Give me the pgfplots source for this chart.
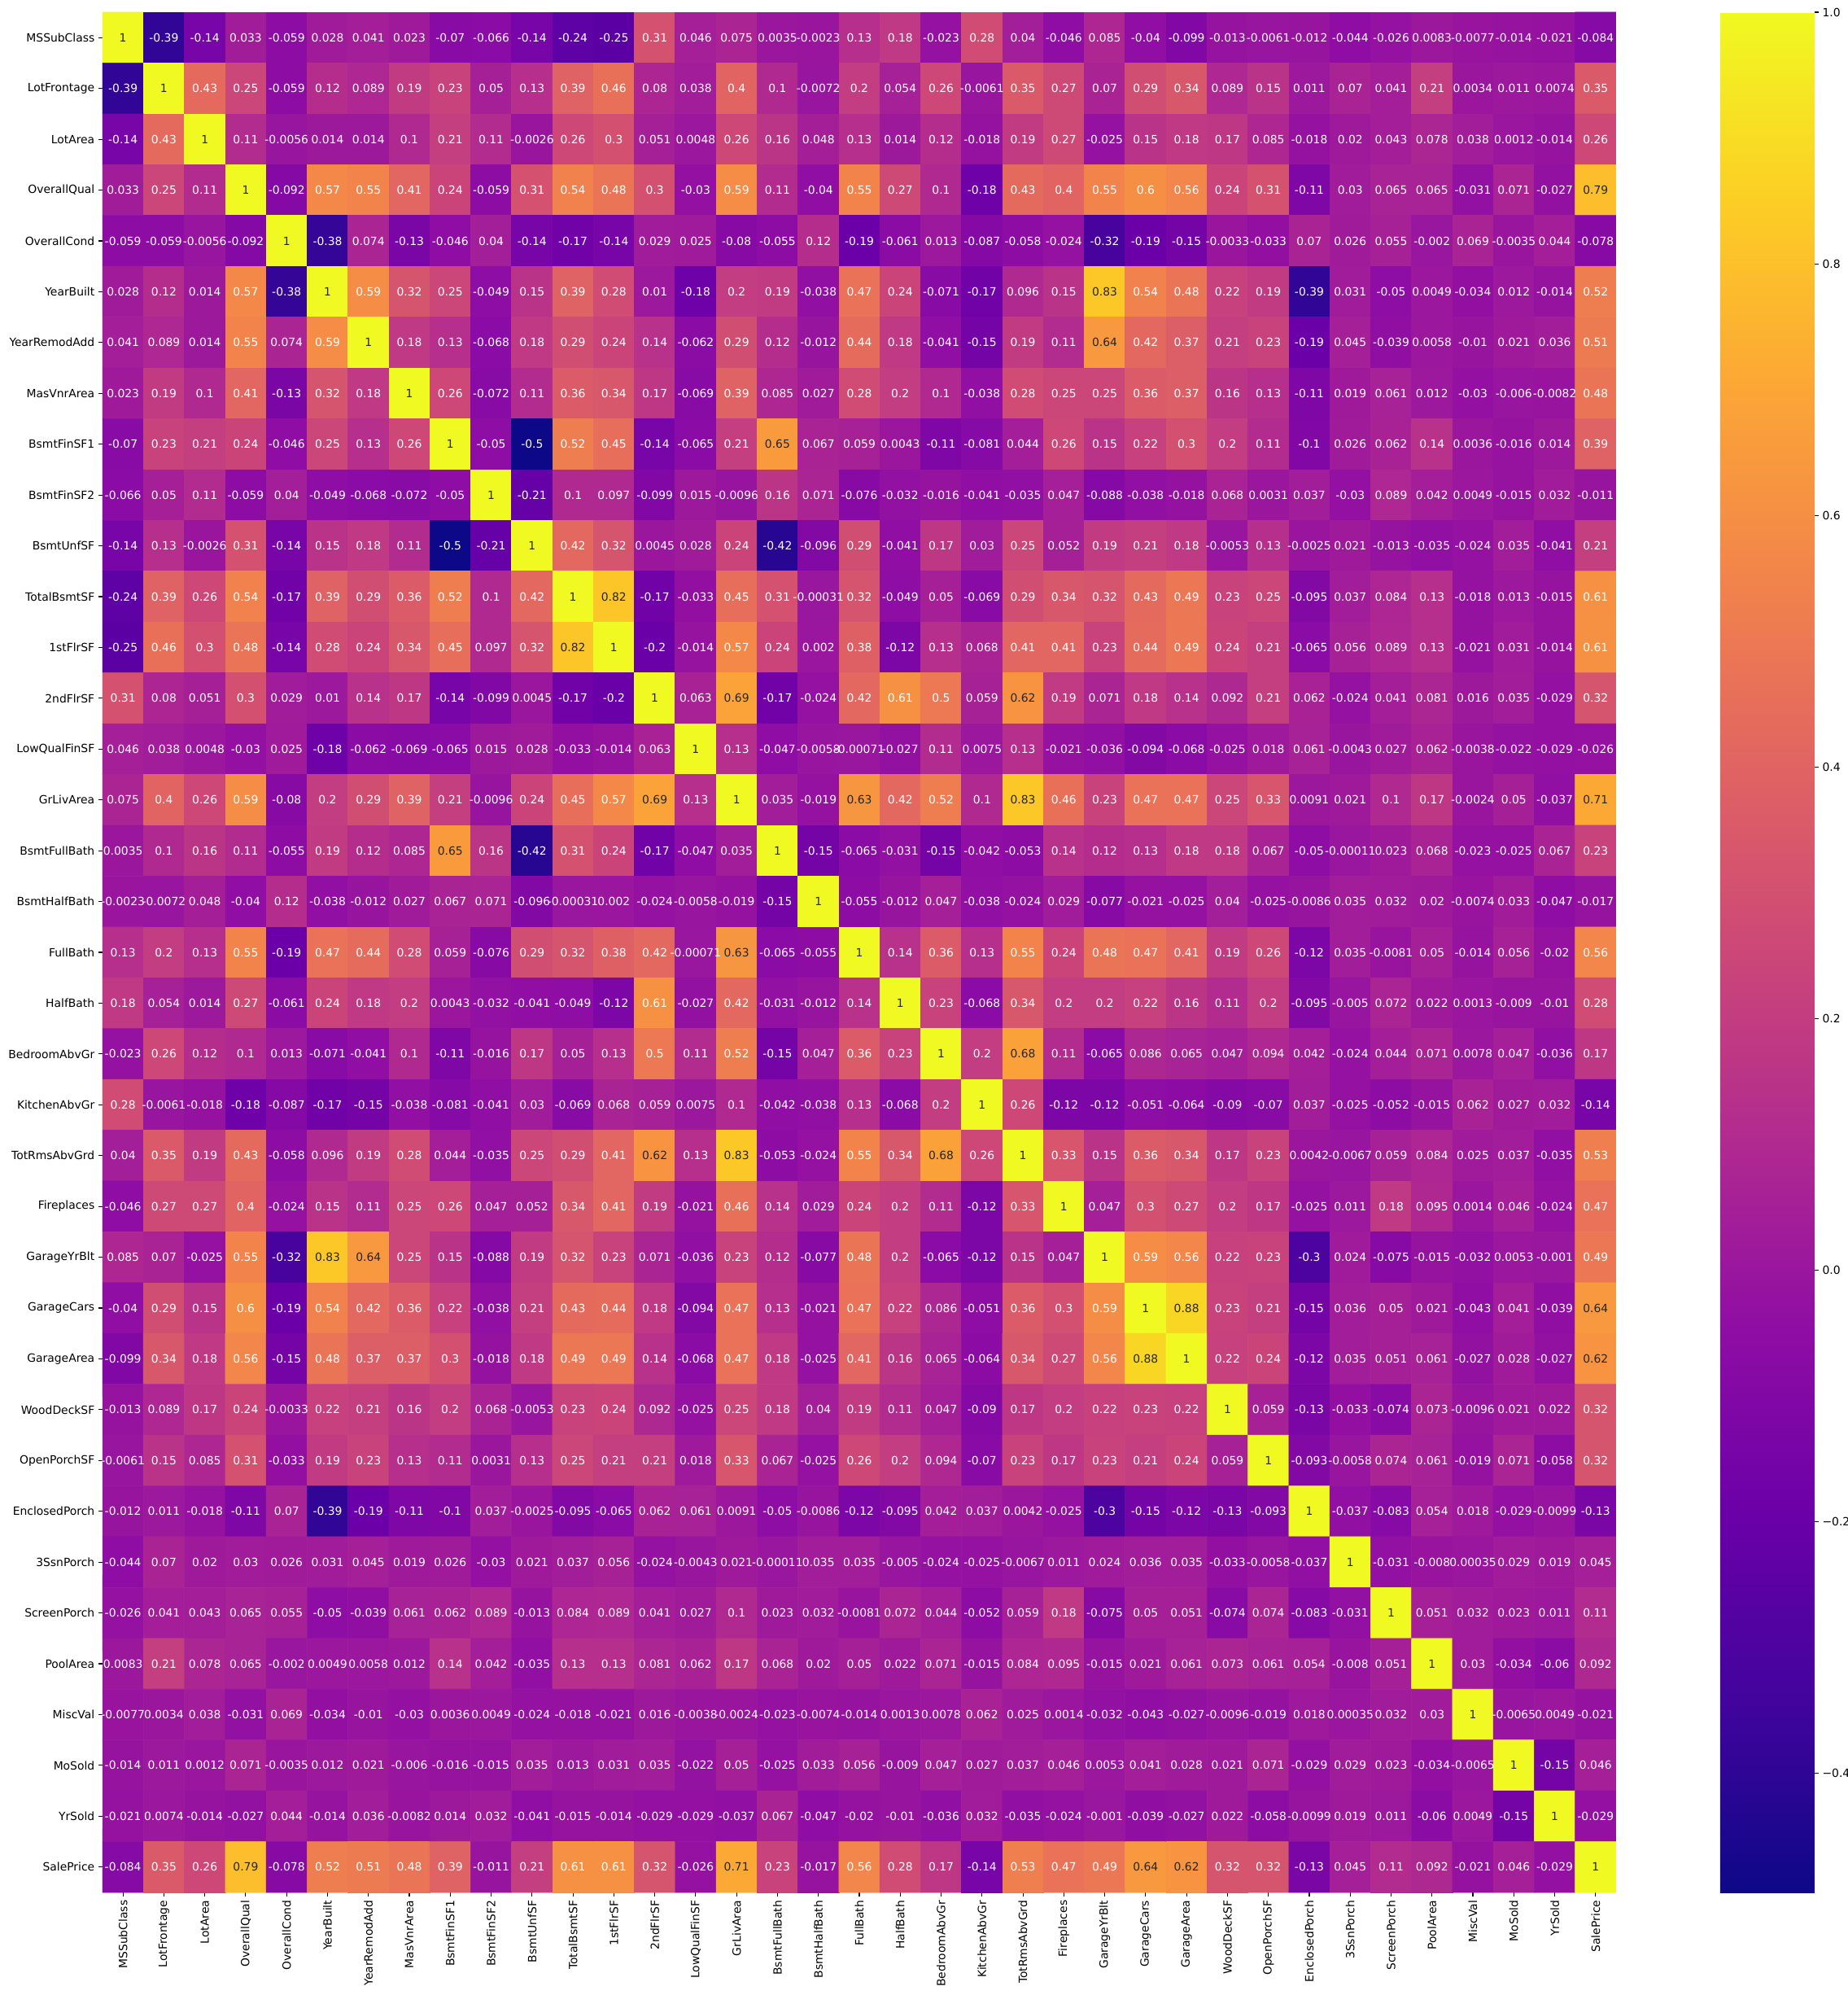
\documentclass[border=0pt]{standalone}
\usepackage{fontspec}
\setmainfont{DejaVu Sans}
\usepackage{pgfplots}
\usepackage{pgfplotstable}
\pgfplotsset{compat=1.18}

\definecolor{txtdark}{gray}{0.15}

% matplotlib "plasma", sampled at 0, 0.1, ..., 1
\pgfplotsset{colormap={plasma}{rgb255=(13,8,135) rgb255=(65,4,157) rgb255=(106,0,168)
  rgb255=(143,13,164) rgb255=(177,42,144) rgb255=(204,71,120) rgb255=(225,100,98)
  rgb255=(242,132,75) rgb255=(252,166,54) rgb255=(252,206,37) rgb255=(240,249,33)}}

% correlation matrix, row by row (37 x 37)
\pgfplotstableread[header=false,row sep=\\]{
1\\ -0.39\\ -0.14\\ 0.033\\ -0.059\\ 0.028\\ 0.041\\ 0.023\\ -0.07\\ -0.066\\ -0.14\\ -0.24\\ -0.25\\ 0.31\\ 0.046\\ 0.075\\ 0.0035\\ -0.0023\\ 0.13\\ 0.18\\ -0.023\\ 0.28\\ 0.04\\ -0.046\\ 0.085\\ -0.04\\ -0.099\\ -0.013\\ -0.0061\\ -0.012\\ -0.044\\ -0.026\\ 0.0083\\ -0.0077\\ -0.014\\ -0.021\\ -0.084\\
-0.39\\ 1\\ 0.43\\ 0.25\\ -0.059\\ 0.12\\ 0.089\\ 0.19\\ 0.23\\ 0.05\\ 0.13\\ 0.39\\ 0.46\\ 0.08\\ 0.038\\ 0.4\\ 0.1\\ -0.0072\\ 0.2\\ 0.054\\ 0.26\\ -0.0061\\ 0.35\\ 0.27\\ 0.07\\ 0.29\\ 0.34\\ 0.089\\ 0.15\\ 0.011\\ 0.07\\ 0.041\\ 0.21\\ 0.0034\\ 0.011\\ 0.0074\\ 0.35\\
-0.14\\ 0.43\\ 1\\ 0.11\\ -0.0056\\ 0.014\\ 0.014\\ 0.1\\ 0.21\\ 0.11\\ -0.0026\\ 0.26\\ 0.3\\ 0.051\\ 0.0048\\ 0.26\\ 0.16\\ 0.048\\ 0.13\\ 0.014\\ 0.12\\ -0.018\\ 0.19\\ 0.27\\ -0.025\\ 0.15\\ 0.18\\ 0.17\\ 0.085\\ -0.018\\ 0.02\\ 0.043\\ 0.078\\ 0.038\\ 0.0012\\ -0.014\\ 0.26\\
0.033\\ 0.25\\ 0.11\\ 1\\ -0.092\\ 0.57\\ 0.55\\ 0.41\\ 0.24\\ -0.059\\ 0.31\\ 0.54\\ 0.48\\ 0.3\\ -0.03\\ 0.59\\ 0.11\\ -0.04\\ 0.55\\ 0.27\\ 0.1\\ -0.18\\ 0.43\\ 0.4\\ 0.55\\ 0.6\\ 0.56\\ 0.24\\ 0.31\\ -0.11\\ 0.03\\ 0.065\\ 0.065\\ -0.031\\ 0.071\\ -0.027\\ 0.79\\
-0.059\\ -0.059\\ -0.0056\\ -0.092\\ 1\\ -0.38\\ 0.074\\ -0.13\\ -0.046\\ 0.04\\ -0.14\\ -0.17\\ -0.14\\ 0.029\\ 0.025\\ -0.08\\ -0.055\\ 0.12\\ -0.19\\ -0.061\\ 0.013\\ -0.087\\ -0.058\\ -0.024\\ -0.32\\ -0.19\\ -0.15\\ -0.0033\\ -0.033\\ 0.07\\ 0.026\\ 0.055\\ -0.002\\ 0.069\\ -0.0035\\ 0.044\\ -0.078\\
0.028\\ 0.12\\ 0.014\\ 0.57\\ -0.38\\ 1\\ 0.59\\ 0.32\\ 0.25\\ -0.049\\ 0.15\\ 0.39\\ 0.28\\ 0.01\\ -0.18\\ 0.2\\ 0.19\\ -0.038\\ 0.47\\ 0.24\\ -0.071\\ -0.17\\ 0.096\\ 0.15\\ 0.83\\ 0.54\\ 0.48\\ 0.22\\ 0.19\\ -0.39\\ 0.031\\ -0.05\\ 0.0049\\ -0.034\\ 0.012\\ -0.014\\ 0.52\\
0.041\\ 0.089\\ 0.014\\ 0.55\\ 0.074\\ 0.59\\ 1\\ 0.18\\ 0.13\\ -0.068\\ 0.18\\ 0.29\\ 0.24\\ 0.14\\ -0.062\\ 0.29\\ 0.12\\ -0.012\\ 0.44\\ 0.18\\ -0.041\\ -0.15\\ 0.19\\ 0.11\\ 0.64\\ 0.42\\ 0.37\\ 0.21\\ 0.23\\ -0.19\\ 0.045\\ -0.039\\ 0.0058\\ -0.01\\ 0.021\\ 0.036\\ 0.51\\
0.023\\ 0.19\\ 0.1\\ 0.41\\ -0.13\\ 0.32\\ 0.18\\ 1\\ 0.26\\ -0.072\\ 0.11\\ 0.36\\ 0.34\\ 0.17\\ -0.069\\ 0.39\\ 0.085\\ 0.027\\ 0.28\\ 0.2\\ 0.1\\ -0.038\\ 0.28\\ 0.25\\ 0.25\\ 0.36\\ 0.37\\ 0.16\\ 0.13\\ -0.11\\ 0.019\\ 0.061\\ 0.012\\ -0.03\\ -0.006\\ -0.0082\\ 0.48\\
-0.07\\ 0.23\\ 0.21\\ 0.24\\ -0.046\\ 0.25\\ 0.13\\ 0.26\\ 1\\ -0.05\\ -0.5\\ 0.52\\ 0.45\\ -0.14\\ -0.065\\ 0.21\\ 0.65\\ 0.067\\ 0.059\\ 0.0043\\ -0.11\\ -0.081\\ 0.044\\ 0.26\\ 0.15\\ 0.22\\ 0.3\\ 0.2\\ 0.11\\ -0.1\\ 0.026\\ 0.062\\ 0.14\\ 0.0036\\ -0.016\\ 0.014\\ 0.39\\
-0.066\\ 0.05\\ 0.11\\ -0.059\\ 0.04\\ -0.049\\ -0.068\\ -0.072\\ -0.05\\ 1\\ -0.21\\ 0.1\\ 0.097\\ -0.099\\ 0.015\\ -0.0096\\ 0.16\\ 0.071\\ -0.076\\ -0.032\\ -0.016\\ -0.041\\ -0.035\\ 0.047\\ -0.088\\ -0.038\\ -0.018\\ 0.068\\ 0.0031\\ 0.037\\ -0.03\\ 0.089\\ 0.042\\ 0.0049\\ -0.015\\ 0.032\\ -0.011\\
-0.14\\ 0.13\\ -0.0026\\ 0.31\\ -0.14\\ 0.15\\ 0.18\\ 0.11\\ -0.5\\ -0.21\\ 1\\ 0.42\\ 0.32\\ 0.0045\\ 0.028\\ 0.24\\ -0.42\\ -0.096\\ 0.29\\ -0.041\\ 0.17\\ 0.03\\ 0.25\\ 0.052\\ 0.19\\ 0.21\\ 0.18\\ -0.0053\\ 0.13\\ -0.0025\\ 0.021\\ -0.013\\ -0.035\\ -0.024\\ 0.035\\ -0.041\\ 0.21\\
-0.24\\ 0.39\\ 0.26\\ 0.54\\ -0.17\\ 0.39\\ 0.29\\ 0.36\\ 0.52\\ 0.1\\ 0.42\\ 1\\ 0.82\\ -0.17\\ -0.033\\ 0.45\\ 0.31\\ -0.00031\\ 0.32\\ -0.049\\ 0.05\\ -0.069\\ 0.29\\ 0.34\\ 0.32\\ 0.43\\ 0.49\\ 0.23\\ 0.25\\ -0.095\\ 0.037\\ 0.084\\ 0.13\\ -0.018\\ 0.013\\ -0.015\\ 0.61\\
-0.25\\ 0.46\\ 0.3\\ 0.48\\ -0.14\\ 0.28\\ 0.24\\ 0.34\\ 0.45\\ 0.097\\ 0.32\\ 0.82\\ 1\\ -0.2\\ -0.014\\ 0.57\\ 0.24\\ 0.002\\ 0.38\\ -0.12\\ 0.13\\ 0.068\\ 0.41\\ 0.41\\ 0.23\\ 0.44\\ 0.49\\ 0.24\\ 0.21\\ -0.065\\ 0.056\\ 0.089\\ 0.13\\ -0.021\\ 0.031\\ -0.014\\ 0.61\\
0.31\\ 0.08\\ 0.051\\ 0.3\\ 0.029\\ 0.01\\ 0.14\\ 0.17\\ -0.14\\ -0.099\\ 0.0045\\ -0.17\\ -0.2\\ 1\\ 0.063\\ 0.69\\ -0.17\\ -0.024\\ 0.42\\ 0.61\\ 0.5\\ 0.059\\ 0.62\\ 0.19\\ 0.071\\ 0.18\\ 0.14\\ 0.092\\ 0.21\\ 0.062\\ -0.024\\ 0.041\\ 0.081\\ 0.016\\ 0.035\\ -0.029\\ 0.32\\
0.046\\ 0.038\\ 0.0048\\ -0.03\\ 0.025\\ -0.18\\ -0.062\\ -0.069\\ -0.065\\ 0.015\\ 0.028\\ -0.033\\ -0.014\\ 0.063\\ 1\\ 0.13\\ -0.047\\ -0.0058\\ -0.00071\\ -0.027\\ 0.11\\ 0.0075\\ 0.13\\ -0.021\\ -0.036\\ -0.094\\ -0.068\\ -0.025\\ 0.018\\ 0.061\\ -0.0043\\ 0.027\\ 0.062\\ -0.0038\\ -0.022\\ -0.029\\ -0.026\\
0.075\\ 0.4\\ 0.26\\ 0.59\\ -0.08\\ 0.2\\ 0.29\\ 0.39\\ 0.21\\ -0.0096\\ 0.24\\ 0.45\\ 0.57\\ 0.69\\ 0.13\\ 1\\ 0.035\\ -0.019\\ 0.63\\ 0.42\\ 0.52\\ 0.1\\ 0.83\\ 0.46\\ 0.23\\ 0.47\\ 0.47\\ 0.25\\ 0.33\\ 0.0091\\ 0.021\\ 0.1\\ 0.17\\ -0.0024\\ 0.05\\ -0.037\\ 0.71\\
0.0035\\ 0.1\\ 0.16\\ 0.11\\ -0.055\\ 0.19\\ 0.12\\ 0.085\\ 0.65\\ 0.16\\ -0.42\\ 0.31\\ 0.24\\ -0.17\\ -0.047\\ 0.035\\ 1\\ -0.15\\ -0.065\\ -0.031\\ -0.15\\ -0.042\\ -0.053\\ 0.14\\ 0.12\\ 0.13\\ 0.18\\ 0.18\\ 0.067\\ -0.05\\ -0.00011\\ 0.023\\ 0.068\\ -0.023\\ -0.025\\ 0.067\\ 0.23\\
-0.0023\\ -0.0072\\ 0.048\\ -0.04\\ 0.12\\ -0.038\\ -0.012\\ 0.027\\ 0.067\\ 0.071\\ -0.096\\ -0.00031\\ 0.002\\ -0.024\\ -0.0058\\ -0.019\\ -0.15\\ 1\\ -0.055\\ -0.012\\ 0.047\\ -0.038\\ -0.024\\ 0.029\\ -0.077\\ -0.021\\ -0.025\\ 0.04\\ -0.025\\ -0.0086\\ 0.035\\ 0.032\\ 0.02\\ -0.0074\\ 0.033\\ -0.047\\ -0.017\\
0.13\\ 0.2\\ 0.13\\ 0.55\\ -0.19\\ 0.47\\ 0.44\\ 0.28\\ 0.059\\ -0.076\\ 0.29\\ 0.32\\ 0.38\\ 0.42\\ -0.00071\\ 0.63\\ -0.065\\ -0.055\\ 1\\ 0.14\\ 0.36\\ 0.13\\ 0.55\\ 0.24\\ 0.48\\ 0.47\\ 0.41\\ 0.19\\ 0.26\\ -0.12\\ 0.035\\ -0.0081\\ 0.05\\ -0.014\\ 0.056\\ -0.02\\ 0.56\\
0.18\\ 0.054\\ 0.014\\ 0.27\\ -0.061\\ 0.24\\ 0.18\\ 0.2\\ 0.0043\\ -0.032\\ -0.041\\ -0.049\\ -0.12\\ 0.61\\ -0.027\\ 0.42\\ -0.031\\ -0.012\\ 0.14\\ 1\\ 0.23\\ -0.068\\ 0.34\\ 0.2\\ 0.2\\ 0.22\\ 0.16\\ 0.11\\ 0.2\\ -0.095\\ -0.005\\ 0.072\\ 0.022\\ 0.0013\\ -0.009\\ -0.01\\ 0.28\\
-0.023\\ 0.26\\ 0.12\\ 0.1\\ 0.013\\ -0.071\\ -0.041\\ 0.1\\ -0.11\\ -0.016\\ 0.17\\ 0.05\\ 0.13\\ 0.5\\ 0.11\\ 0.52\\ -0.15\\ 0.047\\ 0.36\\ 0.23\\ 1\\ 0.2\\ 0.68\\ 0.11\\ -0.065\\ 0.086\\ 0.065\\ 0.047\\ 0.094\\ 0.042\\ -0.024\\ 0.044\\ 0.071\\ 0.0078\\ 0.047\\ -0.036\\ 0.17\\
0.28\\ -0.0061\\ -0.018\\ -0.18\\ -0.087\\ -0.17\\ -0.15\\ -0.038\\ -0.081\\ -0.041\\ 0.03\\ -0.069\\ 0.068\\ 0.059\\ 0.0075\\ 0.1\\ -0.042\\ -0.038\\ 0.13\\ -0.068\\ 0.2\\ 1\\ 0.26\\ -0.12\\ -0.12\\ -0.051\\ -0.064\\ -0.09\\ -0.07\\ 0.037\\ -0.025\\ -0.052\\ -0.015\\ 0.062\\ 0.027\\ 0.032\\ -0.14\\
0.04\\ 0.35\\ 0.19\\ 0.43\\ -0.058\\ 0.096\\ 0.19\\ 0.28\\ 0.044\\ -0.035\\ 0.25\\ 0.29\\ 0.41\\ 0.62\\ 0.13\\ 0.83\\ -0.053\\ -0.024\\ 0.55\\ 0.34\\ 0.68\\ 0.26\\ 1\\ 0.33\\ 0.15\\ 0.36\\ 0.34\\ 0.17\\ 0.23\\ 0.0042\\ -0.0067\\ 0.059\\ 0.084\\ 0.025\\ 0.037\\ -0.035\\ 0.53\\
-0.046\\ 0.27\\ 0.27\\ 0.4\\ -0.024\\ 0.15\\ 0.11\\ 0.25\\ 0.26\\ 0.047\\ 0.052\\ 0.34\\ 0.41\\ 0.19\\ -0.021\\ 0.46\\ 0.14\\ 0.029\\ 0.24\\ 0.2\\ 0.11\\ -0.12\\ 0.33\\ 1\\ 0.047\\ 0.3\\ 0.27\\ 0.2\\ 0.17\\ -0.025\\ 0.011\\ 0.18\\ 0.095\\ 0.0014\\ 0.046\\ -0.024\\ 0.47\\
0.085\\ 0.07\\ -0.025\\ 0.55\\ -0.32\\ 0.83\\ 0.64\\ 0.25\\ 0.15\\ -0.088\\ 0.19\\ 0.32\\ 0.23\\ 0.071\\ -0.036\\ 0.23\\ 0.12\\ -0.077\\ 0.48\\ 0.2\\ -0.065\\ -0.12\\ 0.15\\ 0.047\\ 1\\ 0.59\\ 0.56\\ 0.22\\ 0.23\\ -0.3\\ 0.024\\ -0.075\\ -0.015\\ -0.032\\ 0.0053\\ -0.001\\ 0.49\\
-0.04\\ 0.29\\ 0.15\\ 0.6\\ -0.19\\ 0.54\\ 0.42\\ 0.36\\ 0.22\\ -0.038\\ 0.21\\ 0.43\\ 0.44\\ 0.18\\ -0.094\\ 0.47\\ 0.13\\ -0.021\\ 0.47\\ 0.22\\ 0.086\\ -0.051\\ 0.36\\ 0.3\\ 0.59\\ 1\\ 0.88\\ 0.23\\ 0.21\\ -0.15\\ 0.036\\ 0.05\\ 0.021\\ -0.043\\ 0.041\\ -0.039\\ 0.64\\
-0.099\\ 0.34\\ 0.18\\ 0.56\\ -0.15\\ 0.48\\ 0.37\\ 0.37\\ 0.3\\ -0.018\\ 0.18\\ 0.49\\ 0.49\\ 0.14\\ -0.068\\ 0.47\\ 0.18\\ -0.025\\ 0.41\\ 0.16\\ 0.065\\ -0.064\\ 0.34\\ 0.27\\ 0.56\\ 0.88\\ 1\\ 0.22\\ 0.24\\ -0.12\\ 0.035\\ 0.051\\ 0.061\\ -0.027\\ 0.028\\ -0.027\\ 0.62\\
-0.013\\ 0.089\\ 0.17\\ 0.24\\ -0.0033\\ 0.22\\ 0.21\\ 0.16\\ 0.2\\ 0.068\\ -0.0053\\ 0.23\\ 0.24\\ 0.092\\ -0.025\\ 0.25\\ 0.18\\ 0.04\\ 0.19\\ 0.11\\ 0.047\\ -0.09\\ 0.17\\ 0.2\\ 0.22\\ 0.23\\ 0.22\\ 1\\ 0.059\\ -0.13\\ -0.033\\ -0.074\\ 0.073\\ -0.0096\\ 0.021\\ 0.022\\ 0.32\\
-0.0061\\ 0.15\\ 0.085\\ 0.31\\ -0.033\\ 0.19\\ 0.23\\ 0.13\\ 0.11\\ 0.0031\\ 0.13\\ 0.25\\ 0.21\\ 0.21\\ 0.018\\ 0.33\\ 0.067\\ -0.025\\ 0.26\\ 0.2\\ 0.094\\ -0.07\\ 0.23\\ 0.17\\ 0.23\\ 0.21\\ 0.24\\ 0.059\\ 1\\ -0.093\\ -0.0058\\ 0.074\\ 0.061\\ -0.019\\ 0.071\\ -0.058\\ 0.32\\
-0.012\\ 0.011\\ -0.018\\ -0.11\\ 0.07\\ -0.39\\ -0.19\\ -0.11\\ -0.1\\ 0.037\\ -0.0025\\ -0.095\\ -0.065\\ 0.062\\ 0.061\\ 0.0091\\ -0.05\\ -0.0086\\ -0.12\\ -0.095\\ 0.042\\ 0.037\\ 0.0042\\ -0.025\\ -0.3\\ -0.15\\ -0.12\\ -0.13\\ -0.093\\ 1\\ -0.037\\ -0.083\\ 0.054\\ 0.018\\ -0.029\\ -0.0099\\ -0.13\\
-0.044\\ 0.07\\ 0.02\\ 0.03\\ 0.026\\ 0.031\\ 0.045\\ 0.019\\ 0.026\\ -0.03\\ 0.021\\ 0.037\\ 0.056\\ -0.024\\ -0.0043\\ 0.021\\ -0.00011\\ 0.035\\ 0.035\\ -0.005\\ -0.024\\ -0.025\\ -0.0067\\ 0.011\\ 0.024\\ 0.036\\ 0.035\\ -0.033\\ -0.0058\\ -0.037\\ 1\\ -0.031\\ -0.008\\ 0.00035\\ 0.029\\ 0.019\\ 0.045\\
-0.026\\ 0.041\\ 0.043\\ 0.065\\ 0.055\\ -0.05\\ -0.039\\ 0.061\\ 0.062\\ 0.089\\ -0.013\\ 0.084\\ 0.089\\ 0.041\\ 0.027\\ 0.1\\ 0.023\\ 0.032\\ -0.0081\\ 0.072\\ 0.044\\ -0.052\\ 0.059\\ 0.18\\ -0.075\\ 0.05\\ 0.051\\ -0.074\\ 0.074\\ -0.083\\ -0.031\\ 1\\ 0.051\\ 0.032\\ 0.023\\ 0.011\\ 0.11\\
0.0083\\ 0.21\\ 0.078\\ 0.065\\ -0.002\\ 0.0049\\ 0.0058\\ 0.012\\ 0.14\\ 0.042\\ -0.035\\ 0.13\\ 0.13\\ 0.081\\ 0.062\\ 0.17\\ 0.068\\ 0.02\\ 0.05\\ 0.022\\ 0.071\\ -0.015\\ 0.084\\ 0.095\\ -0.015\\ 0.021\\ 0.061\\ 0.073\\ 0.061\\ 0.054\\ -0.008\\ 0.051\\ 1\\ 0.03\\ -0.034\\ -0.06\\ 0.092\\
-0.0077\\ 0.0034\\ 0.038\\ -0.031\\ 0.069\\ -0.034\\ -0.01\\ -0.03\\ 0.0036\\ 0.0049\\ -0.024\\ -0.018\\ -0.021\\ 0.016\\ -0.0038\\ -0.0024\\ -0.023\\ -0.0074\\ -0.014\\ 0.0013\\ 0.0078\\ 0.062\\ 0.025\\ 0.0014\\ -0.032\\ -0.043\\ -0.027\\ -0.0096\\ -0.019\\ 0.018\\ 0.00035\\ 0.032\\ 0.03\\ 1\\ -0.0065\\ 0.0049\\ -0.021\\
-0.014\\ 0.011\\ 0.0012\\ 0.071\\ -0.0035\\ 0.012\\ 0.021\\ -0.006\\ -0.016\\ -0.015\\ 0.035\\ 0.013\\ 0.031\\ 0.035\\ -0.022\\ 0.05\\ -0.025\\ 0.033\\ 0.056\\ -0.009\\ 0.047\\ 0.027\\ 0.037\\ 0.046\\ 0.0053\\ 0.041\\ 0.028\\ 0.021\\ 0.071\\ -0.029\\ 0.029\\ 0.023\\ -0.034\\ -0.0065\\ 1\\ -0.15\\ 0.046\\
-0.021\\ 0.0074\\ -0.014\\ -0.027\\ 0.044\\ -0.014\\ 0.036\\ -0.0082\\ 0.014\\ 0.032\\ -0.041\\ -0.015\\ -0.014\\ -0.029\\ -0.029\\ -0.037\\ 0.067\\ -0.047\\ -0.02\\ -0.01\\ -0.036\\ 0.032\\ -0.035\\ -0.024\\ -0.001\\ -0.039\\ -0.027\\ 0.022\\ -0.058\\ -0.0099\\ 0.019\\ 0.011\\ -0.06\\ 0.0049\\ -0.15\\ 1\\ -0.029\\
-0.084\\ 0.35\\ 0.26\\ 0.79\\ -0.078\\ 0.52\\ 0.51\\ 0.48\\ 0.39\\ -0.011\\ 0.21\\ 0.61\\ 0.61\\ 0.32\\ -0.026\\ 0.71\\ 0.23\\ -0.017\\ 0.56\\ 0.28\\ 0.17\\ -0.14\\ 0.53\\ 0.47\\ 0.49\\ 0.64\\ 0.62\\ 0.32\\ 0.32\\ -0.13\\ 0.045\\ 0.11\\ 0.092\\ -0.021\\ 0.046\\ -0.029\\ 1\\
}\corr

\pgfplotsset{
  cell labels/.style={draw=none, mark=none, point meta=explicit symbolic,
    nodes near coords={\pgfplotspointmeta},
    every node near coord/.append style={font=\fontsize{10}{12}\selectfont,
      inner sep=0pt, anchor=center, text=#1}},
}

\begin{document}
\begin{tikzpicture}
\useasboundingbox (0,0) rectangle (1635.12pt,1764.72pt);
\begin{axis}[
    at={(90.72pt,90.72pt)}, anchor=south west,
    width=1339.2pt, height=1663.2pt, scale only axis,
    xmin=-0.5, xmax=36.5, ymin=-0.5, ymax=36.5,
    axis line style={draw=none},
    tick pos=left, tick align=outside,
    major tick length=3.5pt,
    tick style={black, line width=0.8pt},
    xtick={0,...,36}, ytick={0,...,36},
    xticklabels={MSSubClass,LotFrontage,LotArea,OverallQual,OverallCond,YearBuilt,YearRemodAdd,MasVnrArea,BsmtFinSF1,BsmtFinSF2,BsmtUnfSF,TotalBsmtSF,1stFlrSF,2ndFlrSF,LowQualFinSF,GrLivArea,BsmtFullBath,BsmtHalfBath,FullBath,HalfBath,BedroomAbvGr,KitchenAbvGr,TotRmsAbvGrd,Fireplaces,GarageYrBlt,GarageCars,GarageArea,WoodDeckSF,OpenPorchSF,EnclosedPorch,3SsnPorch,ScreenPorch,PoolArea,MiscVal,MoSold,YrSold,SalePrice},
    yticklabels={SalePrice,YrSold,MoSold,MiscVal,PoolArea,ScreenPorch,3SsnPorch,EnclosedPorch,OpenPorchSF,WoodDeckSF,GarageArea,GarageCars,GarageYrBlt,Fireplaces,TotRmsAbvGrd,KitchenAbvGr,BedroomAbvGr,HalfBath,FullBath,BsmtHalfBath,BsmtFullBath,GrLivArea,LowQualFinSF,2ndFlrSF,1stFlrSF,TotalBsmtSF,BsmtUnfSF,BsmtFinSF2,BsmtFinSF1,MasVnrArea,YearRemodAdd,YearBuilt,OverallCond,OverallQual,LotArea,LotFrontage,MSSubClass},
    tick label style={font=\fontsize{10}{12}\selectfont, black},
    xticklabel style={rotate=90, anchor=east},
    colormap name=plasma,
    point meta min=-0.4945, point meta max=1,
    colorbar,
    colorbar/width=83.52pt,
    colorbar style={
        at={(parent axis.north east)}, anchor=north west,
        xshift=83.52pt,
        width=83.52pt, height=1663.2pt, scale only axis,
        axis line style={draw=none},
        ytick pos=right, yticklabel pos=right,
        tick align=outside, major tick length=3.5pt,
        tick style={black, line width=0.8pt},
        ytick={-0.4,-0.2,0,0.2,0.4,0.6,0.8,1},
        yticklabels={−0.4,−0.2,0.0,0.2,0.4,0.6,0.8,1.0},
        yticklabel style={font=\fontsize{10}{12}\selectfont, black},
    },
]
\addplot[matrix plot*, mesh/cols=37, point meta=explicit]
    table[x index=0, y index=0, meta index=0,
          x expr={\coordindex-37*floor((\coordindex+0.5)/37)},
          y expr={36-floor((\coordindex+0.5)/37)}] {\corr};

% labels on light cells
\addplot[cell labels=txtdark]
    table[x index=0, y index=0, meta index=0,
          x expr={\coordindex-37*floor((\coordindex+0.5)/37)},
          y expr={\thisrowno{0}>0.615 ? 36-floor((\coordindex+0.5)/37) : nan}] {\corr};
% labels on dark cells
\addplot[cell labels=white]
    table[x index=0, y index=0, meta index=0,
          x expr={\coordindex-37*floor((\coordindex+0.5)/37)},
          y expr={\thisrowno{0}>0.615 ? nan : 36-floor((\coordindex+0.5)/37)}] {\corr};
\end{axis}
\end{tikzpicture}
\end{document}
